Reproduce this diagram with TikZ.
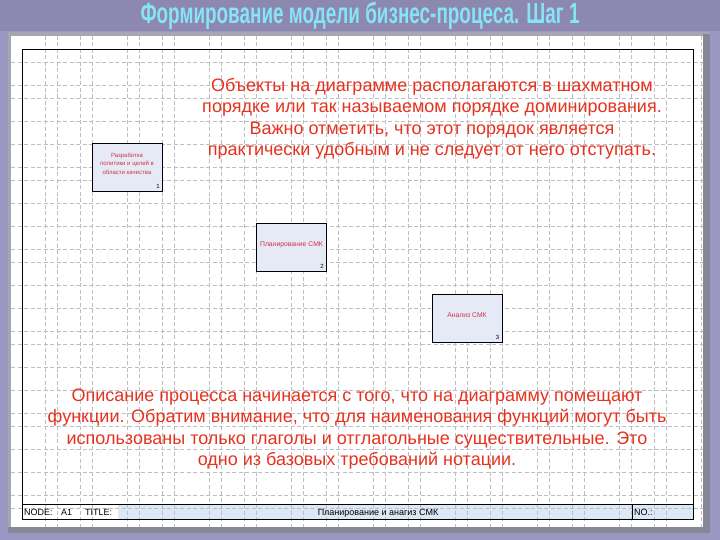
\documentclass[tikz,border=0pt]{standalone}
\usepackage{fontspec}
\setmainfont{Liberation Sans}
\definecolor{bgpurple}{HTML}{8D88B0}
\definecolor{sidepurple}{HTML}{9C97C2}
\definecolor{framegray}{HTML}{A4A6B2}
\definecolor{framedark}{HTML}{868898}
\definecolor{gridgray}{HTML}{BEBEC2}
\definecolor{rowblue}{HTML}{DCE8F6}
\definecolor{boxfill}{HTML}{E6EAF6}
\definecolor{txtred}{HTML}{E6321E}
\definecolor{boxred}{HTML}{D23048}
\definecolor{titlecyan}{HTML}{86E4F4}
\tikzset{
  gridline/.style={draw=gridgray, line width=0.5pt, dash pattern=on 4pt off 2.5pt},
  funcbox/.style={draw=black, line width=0.8pt, fill=boxfill, minimum width=70pt, minimum height=48pt, inner sep=0pt},
  boxlabel/.style={text=boxred, font=\fontsize{6.8}{8}\selectfont, align=center, inner sep=0pt},
  boxnum/.style={text=black, font=\fontsize{6}{6}\selectfont, inner sep=0pt},
  bigtext/.style={text=txtred, font=\fontsize{18}{21.5}\selectfont, align=center, inner sep=0pt},
  rowtext/.style={text=black, font=\fontsize{9}{9}\selectfont, inner sep=0pt, anchor=base west}
}
\begin{document}
\begin{tikzpicture}[x=1pt,y=-1pt]
\useasboundingbox (0,0) rectangle (720,540);
% background
\fill[sidepurple] (0,0) rectangle (720,540);
\fill[bgpurple] (0,0) rectangle (720,31);
% screenshot frame
\fill[framegray] (8,32) rectangle (710,533);
\fill[framedark] (703,34) rectangle (710,533);
\fill[framedark] (8,527) rectangle (710,533);
\fill[white] (11,36) rectangle (703,527);
% title row fill
\fill[rowblue] (118,504) rectangle (693,519);
% grid
\foreach \b in {45,127,209,291,373,455,537,619,701} {
  \foreach \o in {0,12,35,47} {
    \pgfmathsetmacro{\xx}{\b+\o}
    \ifdim\xx pt<703pt
      \draw[gridline] (\xx,36) -- (\xx,527);
    \fi
  }
}
\foreach \b in {62,144,226,308,390,472} {
  \foreach \o in {0,23,36,59} {
    \pgfmathsetmacro{\yy}{\b+\o}
    \ifdim\yy pt<527pt
      \draw[gridline] (11,\yy) -- (703,\yy);
    \fi
  }
}
% frame
\draw[line width=1pt] (22,50) rectangle (693,519);
\draw[line width=0.8pt] (22,504) -- (693,504);
\draw[line width=0.8pt] (632,504) -- (632,519);
% title row texts
\node[rowtext] (node) at (24,515) {NODE:};
\node[rowtext] (a1) at (61,515) {A1};
\node[rowtext] (titlelbl) at (85,515) {TITLE:};
\node[rowtext, anchor=base] (titletxt) at (378,515) {Планирование и анагиз СМК};
\node[rowtext] (no) at (634,515) {NO.:};
% title
\node[text=titlecyan, inner sep=0pt] (title) at (360,15.5) {\scalebox{0.70}[1.08]{\fontsize{27}{27}\selectfont\bfseries Формирование модели бизнес-процеса. Шаг 1}};
% function boxes
\node[funcbox] (b1) at (127.5,167) {};
\node[funcbox] (b2) at (291.5,247) {};
\node[funcbox] (b3) at (467,318) {};
\node[boxlabel, font=\fontsize{6}{8.5}\selectfont] (l1) at (127,163.5) {Разработка\\политики и целей в\\области качества};
\node[boxlabel] (l2) at (291.5,245) {Планирование СМК};
\node[boxlabel] (l3) at (467,315) {Анализ СМК};
\node[boxnum, anchor=south east] (n1) at ([xshift=-3pt,yshift=2.5pt]b1.south east) {1};
\node[boxnum, anchor=south east] (n2) at ([xshift=-3pt,yshift=2.5pt]b2.south east) {2};
\node[boxnum, anchor=south east] (n3) at ([xshift=-3pt,yshift=2.5pt]b3.south east) {3};
% paragraphs
\node[bigtext] (p1) at (432,119) {Объекты на диаграмме располагаются в шахматном\\порядке или так называемом порядке доминирования.\\Важно отметить, что этот порядок является\\практически удобным и не следует от него отступать.};
\node[bigtext] (p2) at (357,429) {Описание процесса начинается с того, что на диаграмму помещают\\функции. Обратим внимание, что для наименования функций могут быть\\использованы только глаголы и отглагольные существительные. Это\\одно из базовых требований нотации.};
\end{tikzpicture}
\end{document}
